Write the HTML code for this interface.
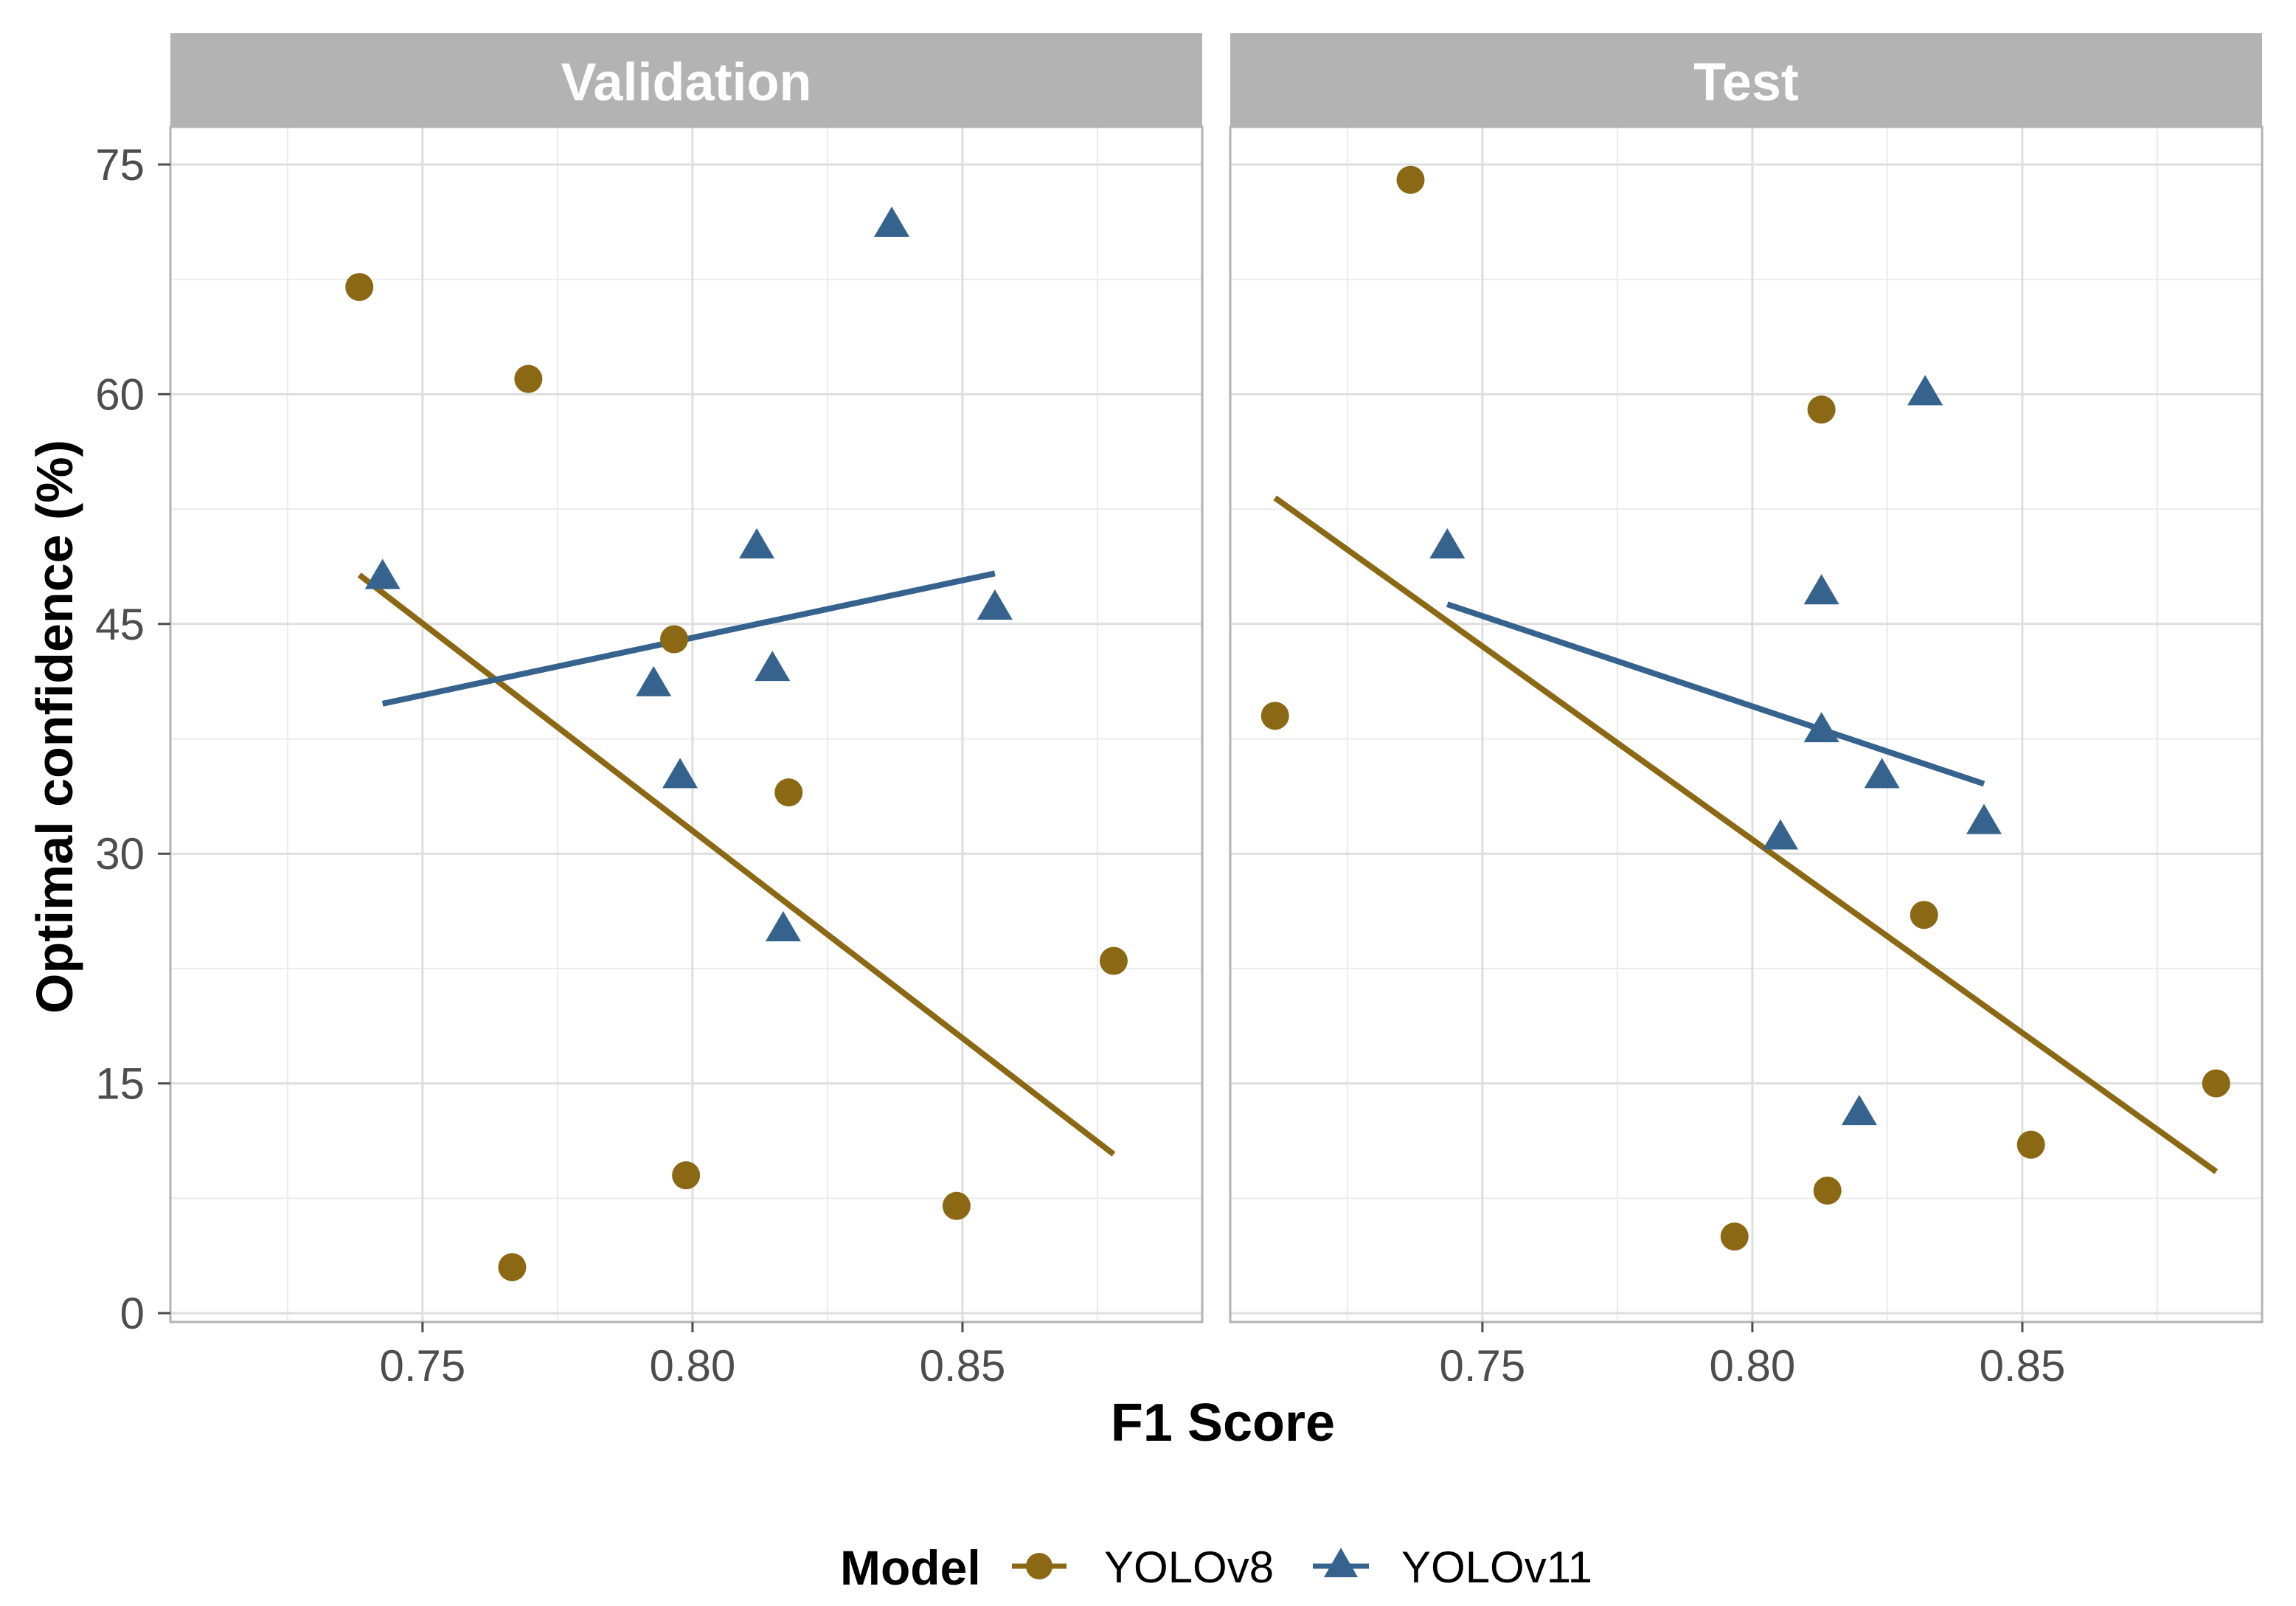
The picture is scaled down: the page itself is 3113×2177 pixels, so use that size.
<!DOCTYPE html>
<html><head><meta charset="utf-8"><style>
html,body{margin:0;padding:0;background:#fff;}
svg{display:block;font-family:"Liberation Sans",Arial,sans-serif;}
</style></head><body>
<svg id="chart" width="3113" height="2177" viewBox="0 0 3113 2177" xmlns="http://www.w3.org/2000/svg"></svg>
<script>
const panels = ["Validation", "Test"];
const v8ValX = [0.7383, 0.7696, 0.7966, 0.8178, 0.878, 0.7988, 0.8489, 0.7666];
const v8ValY = [67, 61, 44, 34, 23, 9, 7, 3];
const v11ValX = [0.7426, 0.8119, 0.7928, 0.8148, 0.7977, 0.8168, 0.8369, 0.856];
const v11ValY = [48, 50, 41, 42, 35, 25, 71, 46];
const v8TestX = [0.7367, 0.8128, 0.7116, 0.8318, 0.8859, 0.8516, 0.8139, 0.7967];
const v8TestY = [74, 59, 39, 26, 15, 11, 8, 5];
const v11TestX = [0.832, 0.7435, 0.8128, 0.8128, 0.824, 0.8052, 0.8429, 0.8198];
const v11TestY = [60, 50, 47, 38, 35, 31, 32, 13];
const xTicks = [0.75, 0.80, 0.85];
const xTickLabels = ["0.75", "0.80", "0.85"];
const yTicks = [0, 15, 30, 45, 60, 75];
const yTickLabels = ["0", "15", "30", "45", "60", "75"];

const NS = "http://www.w3.org/2000/svg";
const svg = document.getElementById("chart");
const C8 = "#8b6914", C11 = "#36638e";
function mk(tag, attrs, parent, text) {
  const e = document.createElementNS(NS, tag);
  for (const k in attrs) e.setAttribute(k, attrs[k]);
  if (text !== undefined) e.textContent = text;
  (parent || svg).appendChild(e);
  return e;
}
const PW = 1399, PTOP = 172, PBOT = 1792, STRIPTOP = 45;
const panelLeft = [231, 1668];
const xMin = 0.7033, xMax = 0.8944;
function xs(p, v) { return panelLeft[p] + (v - xMin) / (xMax - xMin) * PW; }
function ys(v) { return 1780 - v / 15 * 311.4; }
function lm(xa, ya) {
  const n = xa.length; let mx = 0, my = 0;
  for (let i = 0; i < n; i++) { mx += xa[i]; my += ya[i]; }
  mx /= n; my /= n;
  let sxy = 0, sxx = 0;
  for (let i = 0; i < n; i++) { sxy += (xa[i]-mx)*(ya[i]-my); sxx += (xa[i]-mx)**2; }
  const b = sxy / sxx; return [my - b*mx, b];
}
const data = [
  [[v8ValX, v8ValY], [v11ValX, v11ValY]],
  [[v8TestX, v8TestY], [v11TestX, v11TestY]]
];
for (let p = 0; p < 2; p++) {
  const L = panelLeft[p];
  const g = mk("g", {});
  
  
  const strip = mk("rect", {x: L, y: STRIPTOP, width: PW, height: PTOP - STRIPTOP, fill: "#b3b3b3"}, g);
  
  
  const st = mk("text", {x: L + PW/2, y: 136, "text-anchor": "middle", "font-size": 72, "font-weight": "bold", fill: "#fff"}, g, panels[p]);
  
  
  for (let v = 0.725; v < xMax; v += 0.05) mk("line", {x1: xs(p,v), x2: xs(p,v), y1: PTOP, y2: PBOT, stroke: "#ebebeb", "stroke-width": 2}, g);
  for (let v = 7.5; v < 80; v += 15) mk("line", {x1: L, x2: L+PW, y1: ys(v), y2: ys(v), stroke: "#ebebeb", "stroke-width": 2}, g);
  xTicks.forEach(v => mk("line", {x1: xs(p,v), x2: xs(p,v), y1: PTOP, y2: PBOT, stroke: "#dedede", "stroke-width": 3}, g));
  yTicks.forEach(v => mk("line", {x1: L, x2: L+PW, y1: ys(v), y2: ys(v), stroke: "#dedede", "stroke-width": 3}, g));
  mk("rect", {x: L, y: PTOP, width: PW, height: PBOT - PTOP, fill: "none", stroke: "#b3b3b3", "stroke-width": 3}, g);
  xTicks.forEach((v, i) => {
    mk("line", {x1: xs(p,v), x2: xs(p,v), y1: PBOT, y2: PBOT + 14, stroke: "#4d4d4d", "stroke-width": 3}, g);
    const t = mk("text", {x: xs(p,v), y: 1872, "text-anchor": "middle", "font-size": 60, fill: "#4d4d4d"}, g, xTickLabels[i]);
    
    
  });
  const cols = [C8, C11];
  for (let s = 0; s < 2; s++) {
    const [xa, ya] = data[p][s];
    const [a, b] = lm(xa, ya);
    const x0 = Math.min(...xa), x1 = Math.max(...xa);
    const ln = mk("line", {x1: xs(p,x0), y1: ys(a+b*x0), x2: xs(p,x1), y2: ys(a+b*x1), stroke: cols[s], "stroke-width": 8}, g);
    
    
  }
  for (let s = 0; s < 2; s++) {
    const [xa, ya] = data[p][s];
    for (let i = 0; i < xa.length; i++) {
      const cx = xs(p, xa[i]), cy = ys(ya[i]);
      let m;
      if (s === 0) {
        m = mk("circle", {cx: cx, cy: cy, r: 19, fill: C8}, g);
        
      } else {
        m = mk("polygon", {points: `${cx},${cy-26} ${cx-24},${cy+15} ${cx+24},${cy+15}`, fill: C11}, g);
        
      }
      
    }
  }
}
yTicks.forEach((v, i) => {
  mk("line", {x1: 214, x2: 231, y1: ys(v), y2: ys(v), stroke: "#4d4d4d", "stroke-width": 3});
  const t = mk("text", {x: 196, y: ys(v) + 21, "text-anchor": "end", "font-size": 60, fill: "#4d4d4d"}, svg, yTickLabels[i]);
  
  
});
const yt = mk("text", {x: 0, y: 0, transform: "translate(98,985) rotate(-90)", "text-anchor": "middle", "font-size": 70, "font-weight": "bold", fill: "#000"}, svg, "Optimal confidence (%)");


const xt = mk("text", {x: 1658, y: 1953, "text-anchor": "middle", "font-size": 72, "font-weight": "bold", fill: "#000"}, svg, "F1 Score");


const lg = mk("g", {});


const lt = mk("text", {x: 1139, y: 2148, "font-size": 66, "font-weight": "bold", fill: "#000"}, lg, "Model");


mk("line", {x1: 1372, x2: 1446, y1: 2123, y2: 2123, stroke: C8, "stroke-width": 7}, lg);
const lc = mk("circle", {cx: 1409, cy: 2123, r: 18, fill: C8}, lg);


const l8 = mk("text", {x: 1497, y: 2145, "font-size": 60, fill: "#000"}, lg, "YOLOv8");


mk("line", {x1: 1780, x2: 1856, y1: 2123, y2: 2123, stroke: C11, "stroke-width": 7}, lg);
const lp = mk("polygon", {points: "1818,2098 1795,2138 1841,2138", fill: C11}, lg);


const l11 = mk("text", {x: 1900, y: 2145, "font-size": 60, fill: "#000"}, lg, "YOLOv11");


</script>
</body></html>
